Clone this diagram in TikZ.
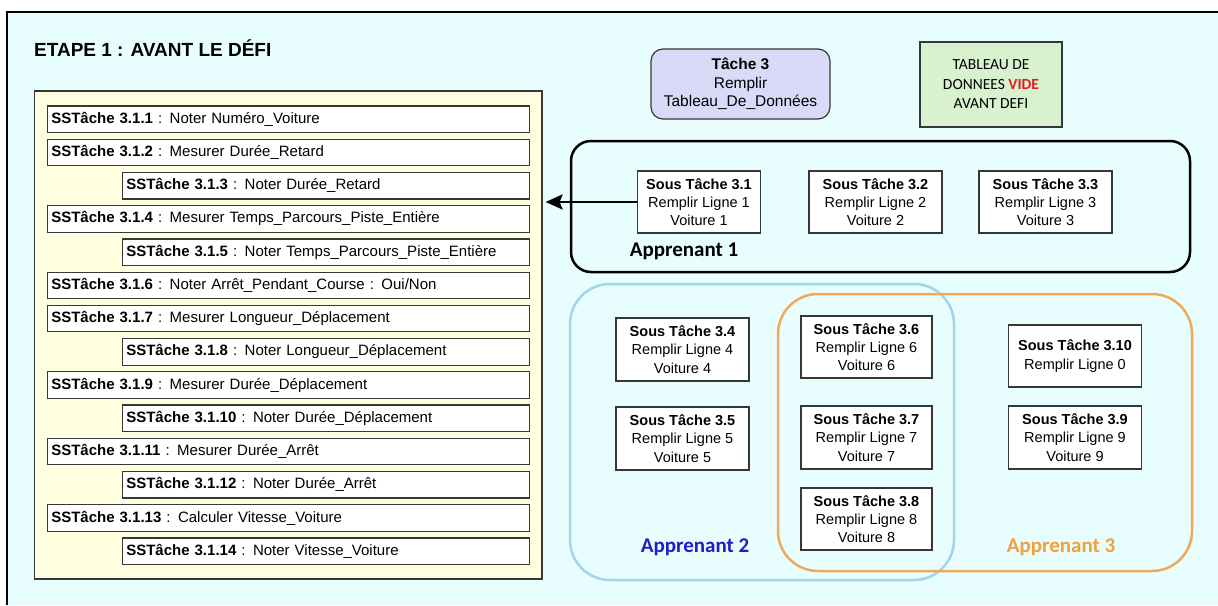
\documentclass[tikz,border=0pt]{standalone}
\usepackage{fontspec}
\setmainfont{Liberation Sans}
\newfontfamily\carlito{Carlito}
\usetikzlibrary{arrows.meta}
\definecolor{bgc}{RGB}{232,254,254}
\definecolor{panelc}{RGB}{255,255,224}
\definecolor{edgec}{RGB}{55,55,55}
\definecolor{lavc}{RGB}{218,218,248}
\definecolor{greenc}{RGB}{216,242,208}
\definecolor{bluec}{RGB}{160,214,236}
\definecolor{orangec}{RGB}{240,168,90}
\definecolor{aptwoc}{RGB}{30,30,200}
\definecolor{apthreec}{RGB}{240,160,60}
\definecolor{vidc}{RGB}{225,30,30}
\begin{document}
\begin{tikzpicture}[x=1pt,y=-1pt,
  row/.style={draw=edgec, fill=white, line width=1.2pt, anchor=west, inner xsep=3.7pt, inner ysep=0pt,
    minimum height=26.5pt, align=left, font=\fontsize{15}{18}\selectfont},
  rowA/.style={row, text width=474.6pt},
  rowB/.style={row, text width=399.6pt},
  stbox/.style={draw=edgec, fill=white, line width=1.2pt, align=center, inner sep=0pt,
    font=\fontsize{14.5}{18.3}\selectfont},
  grp/.style={line width=2.5pt, inner sep=0pt},
  aplabel/.style={font=\carlito\bfseries\fontsize{21}{24}\selectfont, inner sep=0pt}
]
\useasboundingbox (0,0) rectangle (1218,605);
\fill[white] (0,0) rectangle (1218,605);
\fill[bgc] (7,11.5) rectangle (1218,605);
\draw[line width=2pt] (7,605) -- (7,11.5) -- (1218,11.5);

% title
\node[anchor=west, inner sep=0pt, font=\bfseries\fontsize{19}{21}\selectfont] (title) at (34,48) {ETAPE 1 : AVANT LE DÉFI};

% panel
\node[draw=edgec, fill=panelc, line width=1.2pt, minimum width=507.5pt, minimum height=488pt, inner sep=0pt] (panel) at (288.25,335) {};

\node[rowA] (r1)  at (47,119.25) {\textbf{SSTâche 3.1.1} : Noter Numéro\_Voiture};
\node[rowA] (r2)  at (47,152.48) {\textbf{SSTâche 3.1.2} : Mesurer Durée\_Retard};
\node[rowB] (r3)  at (122,185.71) {\textbf{SSTâche 3.1.3} : Noter Durée\_Retard};
\node[rowA] (r4)  at (47,218.94) {\textbf{SSTâche 3.1.4} : Mesurer Temps\_Parcours\_Piste\_Entière};
\node[rowB] (r5)  at (122,252.17) {\textbf{SSTâche 3.1.5} : Noter Temps\_Parcours\_Piste\_Entière};
\node[rowA] (r6)  at (47,285.40) {\textbf{SSTâche 3.1.6} : Noter Arrêt\_Pendant\_Course : Oui/Non};
\node[rowA] (r7)  at (47,318.63) {\textbf{SSTâche 3.1.7} : Mesurer Longueur\_Déplacement};
\node[rowB] (r8)  at (122,351.86) {\textbf{SSTâche 3.1.8} : Noter Longueur\_Déplacement};
\node[rowA] (r9)  at (47,385.09) {\textbf{SSTâche 3.1.9} : Mesurer Durée\_Déplacement};
\node[rowB] (r10) at (122,418.32) {\textbf{SSTâche 3.1.10} : Noter Durée\_Déplacement};
\node[rowA] (r11) at (47,451.55) {\textbf{SSTâche 3.1.11} : Mesurer Durée\_Arrêt};
\node[rowB] (r12) at (122,484.78) {\textbf{SSTâche 3.1.12} : Noter Durée\_Arrêt};
\node[rowA] (r13) at (47,518.01) {\textbf{SSTâche 3.1.13} : Calculer Vitesse\_Voiture};
\node[rowB] (r14) at (122,551.24) {\textbf{SSTâche 3.1.14} : Noter Vitesse\_Voiture};

% top right boxes
\node[draw=edgec, fill=lavc, line width=1.2pt, rounded corners=12pt, minimum width=179pt, minimum height=70pt,
  align=center, inner sep=0pt, font=\fontsize{15.5}{18.5}\selectfont] (t3) at (740.5,84)
  {\textbf{Tâche 3}\\Remplir\\Tableau\_De\_Données};
\node[draw=edgec, fill=greenc, line width=1.2pt, minimum width=142pt, minimum height=85pt,
  align=center, inner sep=0pt, font=\carlito\fontsize{15.5}{19.5}\selectfont] (tab) at (991,84.5)
  {TABLEAU DE\\DONNEES \textcolor{vidc}{\bfseries VIDE}\\AVANT DEFI};

% group Apprenant 1
\node[grp, draw=black, rounded corners=20pt, minimum width=619pt, minimum height=131pt] (ap1) at (880.5,206.5) {};
% groups Apprenant 2 and 3
\node[grp, draw=bluec, rounded corners=40pt, minimum width=384pt, minimum height=296pt] (ap2) at (762,432) {};
\node[grp, draw=orangec, rounded corners=40pt, minimum width=414pt, minimum height=277pt] (ap3) at (985,432.5) {};

\node[stbox, minimum width=123pt, minimum height=62pt] (s31) at (699,202) {\textbf{Sous Tâche 3.1}\\Remplir Ligne 1\\Voiture 1};
\node[stbox, minimum width=133pt, minimum height=62pt] (s32) at (875.5,202) {\textbf{Sous Tâche 3.2}\\Remplir Ligne 2\\Voiture 2};
\node[stbox, minimum width=133pt, minimum height=62pt] (s33) at (1045.5,202) {\textbf{Sous Tâche 3.3}\\Remplir Ligne 3\\Voiture 3};

\node[stbox, minimum width=133pt, minimum height=63pt] (s34) at (682.5,349.5) {\textbf{Sous Tâche 3.4}\\Remplir Ligne 4\\Voiture 4};
\node[stbox, minimum width=133pt, minimum height=63pt] (s35) at (682.5,438.5) {\textbf{Sous Tâche 3.5}\\Remplir Ligne 5\\Voiture 5};
\node[stbox, minimum width=131pt, minimum height=62pt] (s36) at (866.5,347) {\textbf{Sous Tâche 3.6}\\Remplir Ligne 6\\Voiture 6};
\node[stbox, minimum width=131pt, minimum height=63pt] (s37) at (866.5,437.5) {\textbf{Sous Tâche 3.7}\\Remplir Ligne 7\\Voiture 7};
\node[stbox, minimum width=131pt, minimum height=62pt] (s38) at (866.5,519) {\textbf{Sous Tâche 3.8}\\Remplir Ligne 8\\Voiture 8};
\node[stbox, minimum width=133pt, minimum height=62pt] (s310) at (1075,356) {\textbf{Sous Tâche 3.10}\\Remplir Ligne 0};
\node[stbox, minimum width=133pt, minimum height=63pt] (s39) at (1075,437.5) {\textbf{Sous Tâche 3.9}\\Remplir Ligne 9\\Voiture 9};

\node[aplabel] (l1) at (684,251) {Apprenant 1};
\node[aplabel, text=aptwoc] (l2) at (695,547) {Apprenant 2};
\node[aplabel, text=apthreec] (l3) at (1061,547) {Apprenant 3};

% arrow
\coordinate (tip) at ([xshift=3pt]panel.east |- s31.west);
\draw[line width=2.5pt, -{Stealth[length=17pt,width=15pt,inset=3pt]}] (s31.west) -- (tip);
\end{tikzpicture}
\end{document}
